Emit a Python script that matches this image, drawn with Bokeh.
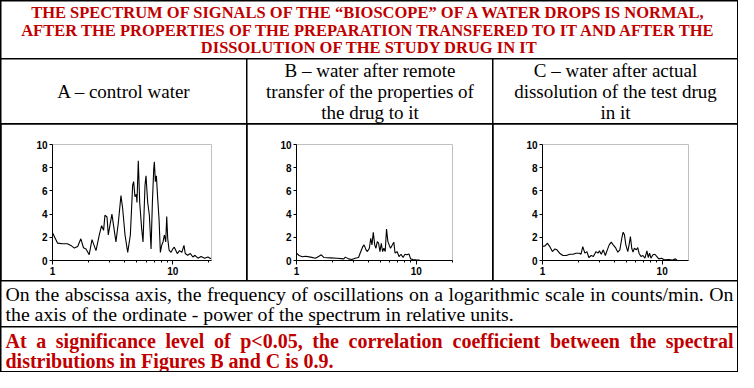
import math
from bokeh.plotting import figure
from bokeh.layouts import row, column
from bokeh.models import Range1d, FixedTicker, PrintfTickFormatter, Spacer
from bokeh.core.properties import value
from bokeh.embed import file_html
from bokeh.resources import INLINE

# ---------------- data ----------------
X_MAJOR_TICKS = [1, 10]
X_MINOR_TICKS = [2, 3, 4, 5, 6, 7, 8, 9, 20]
Y_TICKS = [0, 2, 4, 6, 8, 10]

X_END_A = 21.0
X_END_B = 20.1
X_END_C = 16.6

A_FREQ = [1.00, 1.10, 1.21, 1.33, 1.42, 1.52, 1.62, 1.72, 1.81, 1.90,
          2.02, 2.13, 2.30, 2.45, 2.56, 2.66, 2.73, 2.84, 2.91, 3.00,
          3.12, 3.22, 3.37, 3.53, 3.71, 3.83, 4.01, 4.22, 4.44, 4.64,
          4.73, 4.85, 4.98, 5.04, 5.17, 5.31, 5.52, 5.66, 5.88, 5.99,
          6.19, 6.39, 6.60, 6.77, 6.95, 7.03, 7.17, 7.31, 7.50, 7.69,
          7.89, 8.09, 8.30, 8.52, 8.74, 8.91, 9.08, 9.32, 9.68, 10.0,
          10.3, 10.9, 11.4, 11.9, 12.4, 12.7, 13.3, 14.0, 14.7, 15.3,
          16.2, 17.2, 18.4, 19.6, 20.8]
A_POWER = [2.4, 1.5, 1.45, 1.45, 1.3, 1.07, 1.2, 1.87, 1.1, 1.0,
           0.5, 1.8, 0.85, 2.2, 3.0, 2.6, 3.9, 3.75, 2.2, 3.0,
           4.0, 3.0, 1.6, 3.3, 5.6, 4.5, 2.2, 0.7, 2.2, 6.5,
           6.8, 5.5, 5.7, 5.0, 8.6, 5.0, 2.7, 1.6, 6.5, 7.3,
           5.0, 3.9, 1.0, 5.0, 7.9, 8.5, 6.8, 7.3, 5.3, 3.6,
           0.7, 1.3, 1.6, 2.2, 1.6, 3.8, 1.9, 0.9, 0.7, 1.0,
           1.15, 0.6, 0.85, 0.7, 1.3, 0.6, 0.45, 0.6, 0.3, 0.45,
           0.2, 0.35, 0.2, 0.3, 0.15]

B_FREQ = [1.00, 1.05, 1.12, 1.19, 1.31, 1.44, 1.54, 1.61, 1.69, 1.92,
          2.18, 2.48, 2.56, 2.72, 2.90, 3.09, 3.30, 3.40, 3.58, 3.67,
          3.81, 3.91, 4.06, 4.17, 4.27, 4.38, 4.50, 4.61, 4.73, 4.85,
          4.98, 5.11, 5.24, 5.37, 5.51, 5.65, 5.80, 5.94, 6.10, 6.33,
          6.50, 6.66, 6.92, 7.19, 7.47, 7.76, 8.06, 8.37, 8.70, 8.98,
          9.38, 10.0, 10.7]
B_POWER = [0.63, 0.43, 0.32, 0.37, 0.29, 0.2, 0.37, 0.49, 0.26, 0.23,
           0.2, 0.14, 0.29, 0.14, 0.09, 0.2, 0.26, 0.63, 1.2, 1.35,
           0.92, 0.77, 1.06, 1.92, 1.35, 2.44, 1.35, 1.06, 1.63, 1.49,
           0.77, 1.49, 0.77, 1.06, 0.77, 2.72, 1.63, 1.35, 1.06, 1.35,
           1.58, 0.63, 0.77, 0.34, 0.54, 0.26, 0.54, 0.49, 0.57, 0.14,
           0.09, 0.06, 0.03]

C_FREQ = [1.00, 1.05, 1.10, 1.15, 1.21, 1.27, 1.32, 1.39, 1.48, 1.58,
          1.69, 1.80, 1.91, 2.04, 2.10, 2.17, 2.26, 2.35, 2.44, 2.55,
          2.66, 2.80, 2.91, 2.99, 3.10, 3.22, 3.35, 3.48, 3.61, 3.75,
          3.90, 4.10, 4.26, 4.43, 4.60, 4.72, 4.84, 4.97, 5.16, 5.29,
          5.43, 5.57, 5.71, 5.86, 6.09, 6.25, 6.41, 6.65, 6.91, 7.18,
          7.46, 7.65, 7.85, 8.06, 8.37, 8.69, 9.03, 9.38, 9.87, 10.4,
          11.4, 12.1, 12.9, 13.3]
C_POWER = [1.2, 1.26, 1.49, 1.2, 0.77, 1.0, 0.92, 0.63, 0.43, 0.43,
           0.54, 0.54, 0.63, 0.63, 0.54, 1.2, 0.63, 0.77, 0.26, 0.43,
           0.34, 0.77, 0.63, 0.83, 0.54, 0.92, 0.43, 0.92, 1.35, 1.58,
           1.35, 1.06, 0.72, 0.92, 1.92, 2.44, 2.21, 1.35, 0.77, 1.35,
           2.06, 1.06, 0.72, 1.06, 0.92, 1.12, 0.63, 0.34, 0.43, 0.2,
           0.83, 0.26, 0.63, 0.2, 0.49, 0.54, 0.34, 0.14, 0.2, 0.06,
           0.09, 0.03, 0.14, 0.03]

TITLE_LINES = [
    "THE SPECTRUM OF SIGNALS OF THE \u201cBIOSCOPE\u201d OF A WATER DROPS IS NORMAL,",
    "AFTER THE PROPERTIES OF THE PREPARATION TRANSFERED TO IT AND AFTER THE",
    "DISSOLUTION OF THE STUDY DRUG IN IT",
]
HEADER_A = ["A \u2013 control water"]
HEADER_B = ["B \u2013 water after remote", "transfer of the properties of", "the drug to it"]
HEADER_C = ["C \u2013 water after actual", "dissolution of the test drug", "in it"]
NOTE_LINES = [
    "On the abscissa axis, the frequency of oscillations on a logarithmic scale in counts/min. On",
    "the axis of the ordinate - power of the spectrum in relative units.",
]
RED_LINES = [
    "At a significance level of p<0.05, the correlation coefficient between the spectral",
    "distributions in Figures B and C is 0.9.",
]

# ---------------- styles / layout ----------------
RED = "#C00000"
SERIF = "Liberation Serif"
SANS = "Liberation Sans"

COL_W = [245, 245, 244]
FULL_W = 736
H_TITLE, H_HEAD, H_CHART, H_NOTE, H_RED = 57, 64, 156, 45, 44
NOTE_SIZE = 19.8
RED_SIZE = 20

# Times metrics (per 1000 em) used to justify full lines
TIMES_ROMAN = dict(zip("Onheabscixfrquyolgmt,/.- ", [722, 500, 500, 444, 444, 500, 389, 444, 278, 500, 333, 333, 500, 500, 500, 500, 278, 500, 778, 278, 250, 278, 250, 333, 250]))
TIMES_BOLD = dict(zip("Atasignfcelvop<0.5,hrbw ", [722, 333, 500, 389, 278, 500, 556, 333, 444, 444, 278, 500, 500, 556, 570, 500, 250, 500, 250, 556, 444, 556, 722, 250]))


def justify(line, metrics, size, x0, x1):
    words = line.split(" ")
    widths = [sum(metrics.get(ch, 500) for ch in wd) * size / 1000.0 for wd in words]
    gap = (x1 - x0 - sum(widths)) / (len(words) - 1)
    xs, x = [], x0
    for wd in widths:
        xs.append(x)
        x += wd + gap
    return words, xs


def text_cell(w, h):
    return figure(width=w, height=h, x_range=Range1d(0, w), y_range=Range1d(h, 0),
                  x_axis_type=None, y_axis_type=None, output_backend="svg",
                  toolbar_location=None, min_border=0, outline_line_color=None,
                  background_fill_color="white", border_fill_color="white")


def add_lines(p, lines, x, y0, dy, size, color="black", bold=False, align="center"):
    p.text(x=[x] * len(lines), y=[y0 + i * dy for i in range(len(lines))], text=lines,
           text_font=value(SERIF), text_font_size=size, text_color=color,
           text_font_style="bold" if bold else "normal",
           text_align=align, text_baseline="middle")


def chart_cell(w, h, left, top, bottom, x_end, freq, power):
    frame_w = round(120 * math.log10(x_end))
    right = w - left - frame_w
    p = figure(width=w, height=h, x_axis_type="log", x_range=Range1d(1, x_end),
               y_range=Range1d(0, 10), output_backend="svg", toolbar_location=None,
               min_border_left=left, min_border_right=right, min_border_top=top,
               min_border_bottom=bottom, outline_line_color=None,
               background_fill_color="white", border_fill_color="white")
    p.grid.visible = False
    p.line(freq, power, line_color="black", line_width=1.1)
    xa = p.xaxis[0]
    xa.ticker = FixedTicker(ticks=X_MAJOR_TICKS, minor_ticks=X_MINOR_TICKS)
    xa.formatter = PrintfTickFormatter(format="%d")
    xa.major_tick_out = 4
    xa.major_tick_in = 0
    xa.minor_tick_out = 2
    xa.minor_tick_in = 0
    ya = p.yaxis[0]
    ya.ticker = FixedTicker(ticks=Y_TICKS)
    ya.major_tick_out = 3
    ya.major_tick_in = 0
    ya.minor_tick_line_color = None
    for ax in (xa, ya):
        ax.axis_line_color = "black"
        ax.major_tick_line_color = "black"
        ax.major_label_text_font = SANS
        ax.major_label_text_font_style = "bold"
        ax.major_label_text_font_size = "10px"
        ax.major_label_text_color = "black"
        ax.major_label_standoff = 2
    xa.minor_tick_line_color = "black"
    return p


# title
title = text_cell(FULL_W, H_TITLE)
add_lines(title, TITLE_LINES, FULL_W / 2, 11, 17.5, "16.5px", RED, bold=True)

# headers
hA = text_cell(COL_W[0], H_HEAD)
add_lines(hA, HEADER_A, COL_W[0] / 2, 32, 21, "19px")
hB = text_cell(COL_W[1], H_HEAD)
add_lines(hB, HEADER_B, COL_W[1] / 2, 11, 21, "19px")
hC = text_cell(COL_W[2], H_HEAD)
add_lines(hC, HEADER_C, COL_W[2] / 2, 11, 21, "19px")

# charts
cA = chart_cell(COL_W[0], H_CHART, 51, 20, 20, X_END_A, A_FREQ, A_POWER)
cB = chart_cell(COL_W[1], H_CHART, 49, 20, 20, X_END_B, B_FREQ, B_POWER)
cC = chart_cell(COL_W[2], H_CHART, 49, 20, 20, X_END_C, C_FREQ, C_POWER)

# note
note = text_cell(FULL_W, H_NOTE)
nw, nx = justify(NOTE_LINES[0], TIMES_ROMAN, NOTE_SIZE, 4, FULL_W - 4)
note.text(x=nx, y=[12.5] * len(nw), text=nw, text_font=value(SERIF),
          text_font_size=f"{NOTE_SIZE}px", text_color="black", text_align="left",
          text_baseline="middle")
add_lines(note, NOTE_LINES[1:], 4, 32.5, 20, f"{NOTE_SIZE}px", align="left")

# red conclusion
red = text_cell(FULL_W, H_RED)
rw, rx = justify(RED_LINES[0], TIMES_BOLD, RED_SIZE, 4, FULL_W - 4)
red.text(x=rx, y=[13] * len(rw), text=rw, text_font=value(SERIF),
         text_font_size=f"{RED_SIZE}px", text_color=RED, text_font_style="bold",
         text_align="left", text_baseline="middle")
add_lines(red, RED_LINES[1:], 4, 33, 20, f"{RED_SIZE}px", RED, bold=True, align="left")


def hrow(children):
    return row([Spacer(width=0, height=0)] + children + [Spacer(width=0, height=0)], spacing=1)


layout = column([Spacer(width=0, height=0), hrow([title]), hrow([hA, hB, hC]),
                 hrow([cA, cB, cC]), hrow([note]), hrow([red]), Spacer(width=0, height=0)],
                spacing=1, styles={"background-color": "black"})

open("out.html", "w").write(file_html(layout, INLINE))
